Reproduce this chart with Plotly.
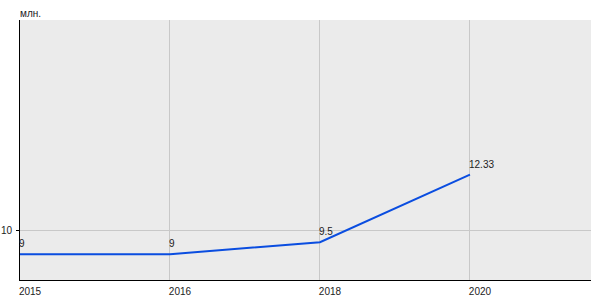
import plotly.graph_objects as go

years = ["2015", "2016", "2018", "2020"]
values = [9, 9, 9.5, 12.33]
labels = ["9", "9", "9.5", "12.33"]

fig = go.Figure()
fig.add_trace(go.Scatter(
    x=years, y=values, mode="lines",
    line=dict(color="#0a4de0", width=2),
    hoverinfo="skip", showlegend=False,
))

annotations = [dict(text="млн.", xref="paper", yref="paper", x=0, y=1, xanchor="left",
                    yanchor="bottom", yshift=-1, xshift=-2, showarrow=False,
                    font=dict(family="Liberation Sans, Arial", size=10, color="#222"))]
for i, (v, lab) in enumerate(zip(values, labels)):
    annotations.append(dict(x=i, y=v, text=lab, xref="x", yref="y", showarrow=False,
                            xanchor="left", yanchor="bottom", xshift=-3, yshift=3,
                            font=dict(family="Liberation Sans, Arial", size=10, color="#222")))

fig.update_layout(
    width=600, height=300,
    margin=dict(l=20, r=9, t=20, b=20, autoexpand=False),
    paper_bgcolor="white", plot_bgcolor="#ebebeb",
    font=dict(family="Liberation Sans, Arial", size=10, color="#222"),
    xaxis=dict(type="category", range=[0, 3.807], showgrid=True, gridcolor="#c8c8c8",
               gridwidth=1, showline=True, linecolor="black", linewidth=1, automargin=False,
               ticks="", ticklabelshift=10, ticklabelstandoff=2, zeroline=False),
    yaxis=dict(range=[7.92, 18.8], tickvals=[10], ticktext=["10"], showgrid=True, automargin=False,
               gridcolor="#c8c8c8", showline=True, linecolor="black", linewidth=1,
               ticks="outside", ticklen=3, tickcolor="black", zeroline=False,
               ticklabelstandoff=2),
    annotations=annotations,
)
fig.write_html("out.html")
